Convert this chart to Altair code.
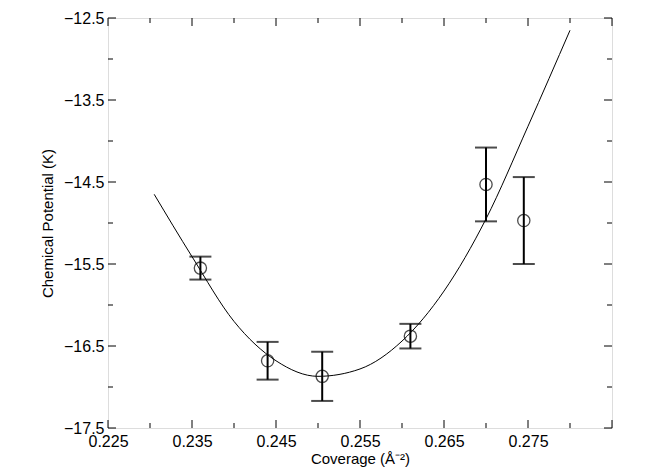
import altair as alt
import pandas as pd

# measured points
cov = [0.236, 0.244, 0.2505, 0.261, 0.270, 0.2745]
mu = [-15.55, -16.68, -16.87, -16.38, -14.53, -14.97]
err = [0.14, 0.23, 0.30, 0.15, 0.45, 0.53]

# fitted curve
fit_x = [0.2305, 0.235, 0.240, 0.245, 0.250, 0.255, 0.260, 0.265, 0.270, 0.275, 0.280]
fit_y = [-14.65, -15.41, -16.20, -16.68, -16.87, -16.78, -16.44, -15.83, -14.95, -13.82, -12.65]

x_ticks = [0.225 + 0.005 * i for i in range(13)]
y_ticks = [-17.5 + 0.5 * i for i in range(11)]

W, H = 504, 410
font = "Liberation Sans"

pts = pd.DataFrame({"x": cov, "y": mu, "lo": [m - e for m, e in zip(mu, err)],
                    "hi": [m + e for m, e in zip(mu, err)]})
fit = pd.DataFrame({"x": fit_x, "y": fit_y})

xs = alt.Scale(domain=[0.225, 0.285], nice=False, zero=False)
ys = alt.Scale(domain=[-17.5, -12.5], nice=False, zero=False)

xax = alt.Axis(values=x_ticks, format=".3f", grid=False, ticks=False, domain=False,
               labelExpr="abs(((datum.value-0.225)/0.01) - round((datum.value-0.225)/0.01)) < 0.01 ? format(datum.value, '.3f') : ''",
               labelFontSize=16, titleFontSize=15, titleFontWeight="normal", labelFont=font,
               titleFont=font, labelColor="black", titleColor="black", labelPadding=5,
               titlePadding=2, labelFlush=False)
yax = alt.Axis(values=y_ticks, grid=False, ticks=False, domain=False,
               labelExpr="abs((datum.value+17.5) % 1) < 0.01 ? replace(format(datum.value, '.1f'), '-', '−') : ''",
               labelFontSize=16, titleFontSize=15, titleFontWeight="normal", labelFont=font,
               titleFont=font, labelColor="black", titleColor="black", labelPadding=4,
               titlePadding=8, labelFlush=False)

curve = alt.Chart(fit).mark_line(color="black", strokeWidth=1, interpolate="monotone").encode(
    x=alt.X("x:Q", scale=xs, axis=xax, title="Coverage (Å\u207b\u00b2)"),
    y=alt.Y("y:Q", scale=ys, axis=yax, title="Chemical Potential (K)"),
)
bars = alt.Chart(pts).mark_rule(color="black", strokeWidth=2).encode(
    x="x:Q", y="lo:Q", y2="hi:Q")
cap_lo = alt.Chart(pts).mark_tick(color="black", orient="horizontal", size=22, thickness=2).encode(
    x="x:Q", y="lo:Q")
cap_hi = alt.Chart(pts).mark_tick(color="black", orient="horizontal", size=22, thickness=2).encode(
    x="x:Q", y="hi:Q")
circ = alt.Chart(pts).mark_point(shape="circle", size=150, color="black", strokeWidth=1.3,
                                 filled=False).encode(x="x:Q", y="y:Q")

xt = pd.DataFrame({"v": x_ticks, "major": [i % 2 == 0 for i in range(len(x_ticks))]})
yt = pd.DataFrame({"v": y_ticks, "major": [i % 2 == 0 for i in range(len(y_ticks))]})

tick_layers = []
for major, L in [(True, 8), (False, 5)]:
    xd = xt[xt.major == major]
    yd = yt[yt.major == major]
    tick_layers += [
        alt.Chart(xd).mark_rule(color="black").encode(x="v:Q", y=alt.value(H), y2=alt.value(H - L)),
        alt.Chart(xd).mark_rule(color="black").encode(x="v:Q", y=alt.value(0), y2=alt.value(L)),
        alt.Chart(yd).mark_rule(color="black").encode(y="v:Q", x=alt.value(0), x2=alt.value(L)),
        alt.Chart(yd).mark_rule(color="black").encode(y="v:Q", x=alt.value(W), x2=alt.value(W - L)),
    ]

chart = alt.layer(curve, bars, cap_lo, cap_hi, circ, *tick_layers).properties(
    width=W, height=H,
    autosize=alt.AutoSizeParams(type="none"),
    padding={"left": 100, "top": 10, "right": 20, "bottom": 40},
).configure_view(stroke="black", strokeWidth=2).configure(background="white")

chart.save("out.html", embed_options={"renderer": "svg", "actions": False})
